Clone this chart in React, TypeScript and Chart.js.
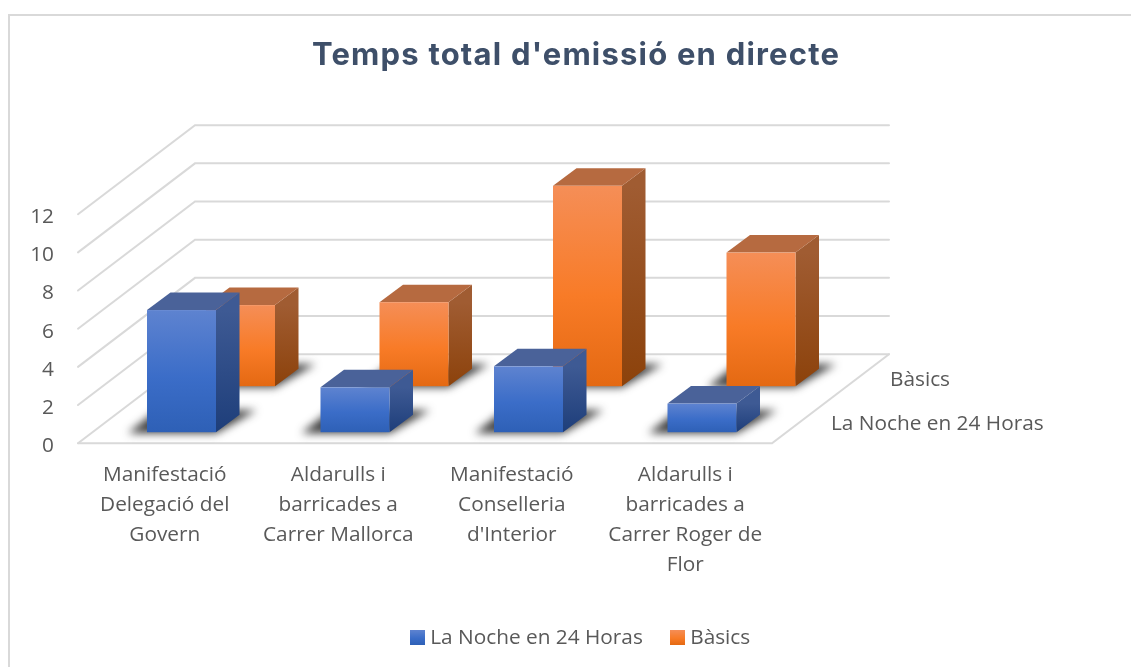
import React, { useEffect, useRef } from "react";
import { Chart, registerables } from "chart.js";

Chart.register(...registerables);

const categories = [
  ["Manifestació", "Delegació del", "Govern"],
  ["Aldarulls i", "barricades a", "Carrer Mallorca"],
  ["Manifestació", "Conselleria", "d'Interior"],
  ["Aldarulls i", "barricades a", "Carrer Roger de", "Flor"],
];
const seriesNames = ["La Noche en 24 Horas", "Bàsics"];
const nocheValues = [6.4, 2.35, 3.45, 1.5];
const basicsValues = [4.25, 4.4, 10.5, 7.0];
const yTicks = [0, 2, 4, 6, 8, 10, 12];
const titleText = "Temps total d'emissió en directe";

const TEXT = "#595959";
const FONT = "'Open Sans'";
const FONT_SIZE = 20.8;
const GRID = "#d9d9d9";
const FLOOR = { dx: 117, dy: -89 };
const BAR_DEPTH = { dx: 23.5, dy: -17.5 };

const styles3d = [
  {
    off: { dx: 16.75, dy: -11 },
    front: ["#5e83d0", "#3b6dc8", "#2e60b6"],
    side: ["#3e5a94", "#1e3e7a"],
    top: "#4a6299",
    labelX: 831,
    labelY: 424,
  },
  {
    off: { dx: 75.75, dy: -57 },
    front: ["#f58e57", "#f87b27", "#e46912"],
    side: ["#a05c32", "#8c420b"],
    top: "#b66a40",
    labelX: 890,
    labelY: 380,
  },
];

function legendSwatch(colors: string[]) {
  const c = document.createElement("canvas");
  c.width = 15;
  c.height = 15;
  const x = c.getContext("2d")!;
  const g = x.createLinearGradient(0, 0, 0, 15);
  g.addColorStop(0, colors[0]);
  g.addColorStop(0.55, colors[1]);
  g.addColorStop(1, colors[2]);
  x.fillStyle = g;
  x.fillRect(0, 0, 15, 15);
  return c;
}

function poly(ctx: CanvasRenderingContext2D, pts: number[][], fill: any) {
  ctx.beginPath();
  pts.forEach((p, i) => (i ? ctx.lineTo(p[0], p[1]) : ctx.moveTo(p[0], p[1])));
  ctx.closePath();
  ctx.fillStyle = fill;
  ctx.fill();
}

const scene3d = {
  id: "scene3d",
  afterLayout(chart: any) {
    // title and legend are centred on the whole figure, not on the plot
    const t = chart.titleBlock;
    t.left = 0;
    t.right = 1152;
    const l = chart.legend;
    l.left = 0;
    l.right = 1165;
    if (!t.__spaced) {
      t.__spaced = true;
      const draw = t.draw;
      t.draw = function (...a: any[]) {
        chart.ctx.save();
        chart.ctx.letterSpacing = "1.2px";
        draw.apply(this, a);
        chart.ctx.restore();
      };
    }
  },
  beforeDraw(chart: any) {
    const { ctx } = chart;
    ctx.save();
    ctx.fillStyle = "#ffffff";
    ctx.fillRect(0, 0, chart.width, chart.height);
    ctx.strokeStyle = GRID;
    ctx.lineWidth = 2;
    ctx.beginPath();
    ctx.moveTo(9, chart.height);
    ctx.lineTo(9, 15);
    ctx.lineTo(chart.width, 15);
    ctx.stroke();
    ctx.restore();
  },
  beforeDatasetsDraw(chart: any) {
    const { ctx, scales } = chart;
    const { left, right } = chart.chartArea;
    const y = scales.y;
    ctx.save();
    ctx.strokeStyle = GRID;
    ctx.lineWidth = 2;
    ctx.lineCap = "round";
    // walls
    yTicks.forEach((v) => {
      const py = y.getPixelForValue(v);
      ctx.beginPath();
      ctx.moveTo(left, py);
      ctx.lineTo(left + FLOOR.dx, py + FLOOR.dy);
      ctx.lineTo(right + FLOOR.dx, py + FLOOR.dy);
      ctx.stroke();
    });
    // floor
    const y0 = y.getPixelForValue(0);
    ctx.beginPath();
    ctx.moveTo(left, y0);
    ctx.lineTo(right, y0);
    ctx.lineTo(right + FLOOR.dx, y0 + FLOOR.dy);
    ctx.stroke();

    // depth axis labels
    ctx.fillStyle = TEXT;
    ctx.font = `${FONT_SIZE}px ${FONT}`;
    ctx.textAlign = "left";
    ctx.textBaseline = "middle";
    chart.data.datasets.forEach((d: any, i: number) => {
      ctx.fillText(d.label, styles3d[i].labelX, styles3d[i].labelY);
    });

    // bars, back series first
    for (let i = chart.data.datasets.length - 1; i >= 0; i--) {
      const st = styles3d[i];
      const meta = chart.getDatasetMeta(i);
      meta.data.forEach((el: any) => {
        const hw = el.width / 2;
        const x0 = el.x - hw + st.off.dx;
        const x1 = el.x + hw + st.off.dx;
        const t = el.y + st.off.dy;
        const b = el.base + st.off.dy;
        const d = BAR_DEPTH;

        // soft contact shadow
        ctx.save();
        ctx.filter = "blur(4px)";
        poly(
          ctx,
          [
            [x0 - 19, b + 1],
            [x1, b + 1],
            [x1 + d.dx + 17, b - 22],
            [x0 + 10, b - 22],
          ],
          "rgba(30,30,30,0.85)"
        );
        ctx.restore();

        // side
        const gs = ctx.createLinearGradient(0, t, 0, b);
        gs.addColorStop(0, st.side[0]);
        gs.addColorStop(1, st.side[1]);
        poly(ctx, [[x1, t], [x1 + d.dx, t + d.dy], [x1 + d.dx, b + d.dy], [x1, b]], gs);
        // top
        poly(ctx, [[x0, t], [x0 + d.dx, t + d.dy], [x1 + d.dx, t + d.dy], [x1, t]], st.top);
        // front
        const gf = ctx.createLinearGradient(0, t, 0, b);
        gf.addColorStop(0, st.front[0]);
        gf.addColorStop(0.55, st.front[1]);
        gf.addColorStop(1, st.front[2]);
        ctx.fillStyle = gf;
        ctx.fillRect(x0, t, x1 - x0, b - t);
      });
    }
    ctx.restore();
    return false;
  },
};

export default function App() {
  const ref = useRef<HTMLCanvasElement>(null);
  useEffect(() => {
    document.body.style.margin = "0";
    const swatches = styles3d.map((s) => legendSwatch(s.front));
    const chart = new Chart(ref.current!, {
      type: "bar",
      data: {
        labels: categories,
        datasets: [
          { label: seriesNames[0], data: nocheValues, backgroundColor: "#3b6dc8", grouped: false, barThickness: 69 },
          { label: seriesNames[1], data: basicsValues, backgroundColor: "#f87b27", grouped: false, barThickness: 69 },
        ],
      } as any,
      plugins: [scene3d],
      options: {
        responsive: false,
        animation: false,
        events: [],
        layout: { padding: { left: 29, right: 359, top: 0, bottom: 9 } },
        scales: {
          x: {
            grid: { display: false },
            border: { display: false },
            ticks: {
              color: TEXT,
              autoSkip: false,
              maxRotation: 0,
              minRotation: 0,
              padding: 9,
              font: { family: FONT, size: FONT_SIZE, lineHeight: 1.44 },
            },
            afterFit: (s: any) => {
              s.height = 152;
            },
          },
          y: {
            min: 0,
            max: 12,
            grid: { display: false, drawTicks: false },
            border: { display: false },
            ticks: {
              color: TEXT,
              stepSize: 2,
              padding: 24,
              labelOffset: 3,
              font: { family: FONT, size: FONT_SIZE },
            },
            afterFit: (s: any) => {
              s.width = 49;
            },
          },
        },
        plugins: {
          tooltip: { enabled: false },
          title: {
            display: true,
            text: titleText,
            color: "#3e4f69",
            font: { family: "Inter", size: 31, weight: "bold", lineHeight: 1.2 },
            padding: { top: 37, bottom: 140 },
          },
          legend: {
            position: "bottom",
            labels: {
              color: TEXT,
              font: { family: FONT, size: FONT_SIZE },
              usePointStyle: true,
              boxWidth: 5,
              boxHeight: 15,
              pointStyleWidth: 5,
              padding: 32,
              generateLabels: (c: any) =>
                c.data.datasets.map((d: any, i: number) => ({
                  text: d.label,
                  fontColor: TEXT,
                  pointStyle: swatches[i],
                  datasetIndex: i,
                  lineWidth: 0,
                })),
            },
          },
        },
      } as any,
    });
    return () => chart.destroy();
  }, []);
  return <canvas ref={ref} width={1131} height={667} style={{ display: "block" }} />;
}
